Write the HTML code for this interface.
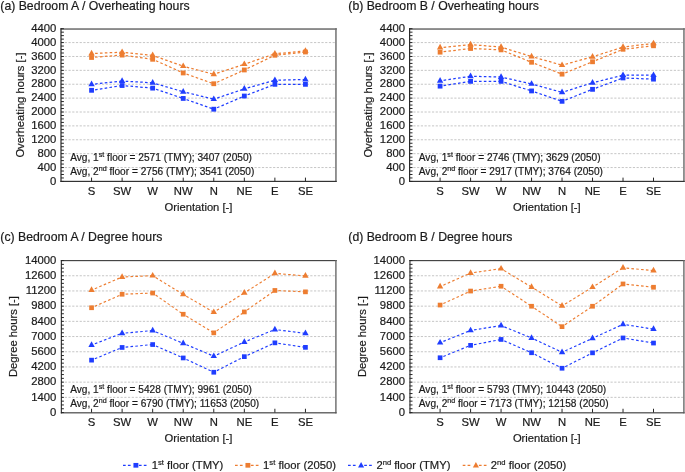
<!DOCTYPE html>
<html><head><meta charset="utf-8"><style>
html,body{margin:0;padding:0;background:#fff;}
body{width:685px;height:472px;overflow:hidden;}
svg{display:block;font-family:"Liberation Sans", sans-serif;will-change:transform;}
text{stroke:#1a1a1a;stroke-width:0.2px;}
</style></head><body>
<svg width="685" height="472" viewBox="0 0 685 472">
<rect width="685" height="472" fill="#fff"/>
<line x1="61.05" y1="167.55" x2="335" y2="167.55" stroke="#c6c6c6" stroke-width="1" stroke-dasharray="2.2 1.52"/>
<line x1="61.05" y1="153.66" x2="335" y2="153.66" stroke="#c6c6c6" stroke-width="1" stroke-dasharray="2.2 1.52"/>
<line x1="61.05" y1="139.78" x2="335" y2="139.78" stroke="#c6c6c6" stroke-width="1" stroke-dasharray="2.2 1.52"/>
<line x1="61.05" y1="125.89" x2="335" y2="125.89" stroke="#c6c6c6" stroke-width="1" stroke-dasharray="2.2 1.52"/>
<line x1="61.05" y1="112.01" x2="335" y2="112.01" stroke="#c6c6c6" stroke-width="1" stroke-dasharray="2.2 1.52"/>
<line x1="61.05" y1="98.12" x2="335" y2="98.12" stroke="#c6c6c6" stroke-width="1" stroke-dasharray="2.2 1.52"/>
<line x1="61.05" y1="84.24" x2="335" y2="84.24" stroke="#c6c6c6" stroke-width="1" stroke-dasharray="2.2 1.52"/>
<line x1="61.05" y1="70.35" x2="335" y2="70.35" stroke="#c6c6c6" stroke-width="1" stroke-dasharray="2.2 1.52"/>
<line x1="61.05" y1="56.47" x2="335" y2="56.47" stroke="#c6c6c6" stroke-width="1" stroke-dasharray="2.2 1.52"/>
<line x1="61.05" y1="42.58" x2="335" y2="42.58" stroke="#c6c6c6" stroke-width="1" stroke-dasharray="2.2 1.52"/>
<text x="70.2" y="161.08" font-size="10.15" fill="#1a1a1a">Avg, 1<tspan font-size="7.1" dy="-4">st</tspan><tspan dy="4"> floor = 2571 (TMY); 3407 (2050)</tspan></text>
<text x="70.2" y="174.88" font-size="10.15" fill="#1a1a1a">Avg, 2<tspan font-size="7.1" dy="-4">nd</tspan><tspan dy="4"> floor = 2756 (TMY); 3541 (2050)</tspan></text>
<path d="M91.56,57.48 L122.11,55.08 M122.11,55.08 L152.67,59.28 M152.67,59.28 L183.22,72.96 M183.22,72.96 L213.78,83.75 M213.78,83.75 L244.33,69.97 M244.33,69.97 L274.89,55.25 M274.89,55.25 L305.44,51.99" fill="none" stroke="#ed7d31" stroke-width="1.25" stroke-dasharray="2.6 2.25" stroke-dashoffset="1.3"/>
<path d="M91.56,53.53 L122.11,52.21 M122.11,52.21 L152.67,55.41 M152.67,55.41 L183.22,66.2 M183.22,66.2 L213.78,74.29 M213.78,74.29 L244.33,64.22 M244.33,64.22 L274.89,53.81 M274.89,53.81 L305.44,50.93" fill="none" stroke="#ed7d31" stroke-width="1.25" stroke-dasharray="2.6 2.25" stroke-dashoffset="1.3"/>
<path d="M91.56,90.31 L122.11,85.52 M122.11,85.52 L152.67,88.13 M152.67,88.13 L183.22,98.44 M183.22,98.44 L213.78,109.2 M213.78,109.2 L244.33,96.04 M244.33,96.04 L274.89,84.34 M274.89,84.34 L305.44,84.34" fill="none" stroke="#1f3dff" stroke-width="1.25" stroke-dasharray="2.6 2.25" stroke-dashoffset="1.3"/>
<path d="M91.56,84.39 L122.11,81.09 M122.11,81.09 L152.67,82.79 M152.67,82.79 L183.22,91.78 M183.22,91.78 L213.78,99.18 M213.78,99.18 L244.33,88.87 M244.33,88.87 L274.89,80.19 M274.89,80.19 L305.44,79.5" fill="none" stroke="#1f3dff" stroke-width="1.25" stroke-dasharray="2.6 2.25" stroke-dashoffset="1.3"/>
<rect x="89.16" y="55.08" width="4.8" height="4.8" fill="#ed7d31"/>
<rect x="119.71" y="52.68" width="4.8" height="4.8" fill="#ed7d31"/>
<rect x="150.27" y="56.88" width="4.8" height="4.8" fill="#ed7d31"/>
<rect x="180.82" y="70.56" width="4.8" height="4.8" fill="#ed7d31"/>
<rect x="211.38" y="81.35" width="4.8" height="4.8" fill="#ed7d31"/>
<rect x="241.93" y="67.57" width="4.8" height="4.8" fill="#ed7d31"/>
<rect x="272.49" y="52.85" width="4.8" height="4.8" fill="#ed7d31"/>
<rect x="303.04" y="49.59" width="4.8" height="4.8" fill="#ed7d31"/>
<path d="M91.56,49.73 L94.76,55.43 L88.36,55.43 Z" fill="#ed7d31"/>
<path d="M122.11,48.41 L125.31,54.11 L118.91,54.11 Z" fill="#ed7d31"/>
<path d="M152.67,51.61 L155.87,57.31 L149.47,57.31 Z" fill="#ed7d31"/>
<path d="M183.22,62.4 L186.42,68.1 L180.02,68.1 Z" fill="#ed7d31"/>
<path d="M213.78,70.49 L216.98,76.19 L210.58,76.19 Z" fill="#ed7d31"/>
<path d="M244.33,60.42 L247.53,66.12 L241.13,66.12 Z" fill="#ed7d31"/>
<path d="M274.89,50.01 L278.09,55.71 L271.69,55.71 Z" fill="#ed7d31"/>
<path d="M305.44,47.13 L308.64,52.83 L302.24,52.83 Z" fill="#ed7d31"/>
<rect x="89.16" y="87.91" width="4.8" height="4.8" fill="#1f3dff"/>
<rect x="119.71" y="83.12" width="4.8" height="4.8" fill="#1f3dff"/>
<rect x="150.27" y="85.73" width="4.8" height="4.8" fill="#1f3dff"/>
<rect x="180.82" y="96.04" width="4.8" height="4.8" fill="#1f3dff"/>
<rect x="211.38" y="106.8" width="4.8" height="4.8" fill="#1f3dff"/>
<rect x="241.93" y="93.64" width="4.8" height="4.8" fill="#1f3dff"/>
<rect x="272.49" y="81.94" width="4.8" height="4.8" fill="#1f3dff"/>
<rect x="303.04" y="81.94" width="4.8" height="4.8" fill="#1f3dff"/>
<path d="M91.56,80.59 L94.76,86.29 L88.36,86.29 Z" fill="#1f3dff"/>
<path d="M122.11,77.29 L125.31,82.99 L118.91,82.99 Z" fill="#1f3dff"/>
<path d="M152.67,78.99 L155.87,84.69 L149.47,84.69 Z" fill="#1f3dff"/>
<path d="M183.22,87.98 L186.42,93.68 L180.02,93.68 Z" fill="#1f3dff"/>
<path d="M213.78,95.38 L216.98,101.08 L210.58,101.08 Z" fill="#1f3dff"/>
<path d="M244.33,85.07 L247.53,90.77 L241.13,90.77 Z" fill="#1f3dff"/>
<path d="M274.89,76.39 L278.09,82.09 L271.69,82.09 Z" fill="#1f3dff"/>
<path d="M305.44,75.7 L308.64,81.4 L302.24,81.4 Z" fill="#1f3dff"/>
<rect x="60.4" y="28.1" width="276.4" height="1.9" fill="#8a8a8a"/>
<rect x="335.2" y="28.1" width="1.5" height="153.9" fill="#727272"/>
<rect x="60.4" y="180.8" width="276.3" height="1.2" fill="#333"/>
<rect x="60.4" y="28.1" width="1.2" height="153.9" fill="#2a2a2a"/>
<line x1="61" y1="181.43" x2="63.9" y2="181.43" stroke="#262626" stroke-width="1"/>
<line x1="61" y1="177.96" x2="63.9" y2="177.96" stroke="#262626" stroke-width="1"/>
<line x1="61" y1="174.49" x2="63.9" y2="174.49" stroke="#262626" stroke-width="1"/>
<line x1="61" y1="171.02" x2="63.9" y2="171.02" stroke="#262626" stroke-width="1"/>
<line x1="61" y1="167.55" x2="63.9" y2="167.55" stroke="#262626" stroke-width="1"/>
<line x1="61" y1="164.07" x2="63.9" y2="164.07" stroke="#262626" stroke-width="1"/>
<line x1="61" y1="160.6" x2="63.9" y2="160.6" stroke="#262626" stroke-width="1"/>
<line x1="61" y1="157.13" x2="63.9" y2="157.13" stroke="#262626" stroke-width="1"/>
<line x1="61" y1="153.66" x2="63.9" y2="153.66" stroke="#262626" stroke-width="1"/>
<line x1="61" y1="150.19" x2="63.9" y2="150.19" stroke="#262626" stroke-width="1"/>
<line x1="61" y1="146.72" x2="63.9" y2="146.72" stroke="#262626" stroke-width="1"/>
<line x1="61" y1="143.25" x2="63.9" y2="143.25" stroke="#262626" stroke-width="1"/>
<line x1="61" y1="139.78" x2="63.9" y2="139.78" stroke="#262626" stroke-width="1"/>
<line x1="61" y1="136.31" x2="63.9" y2="136.31" stroke="#262626" stroke-width="1"/>
<line x1="61" y1="132.83" x2="63.9" y2="132.83" stroke="#262626" stroke-width="1"/>
<line x1="61" y1="129.36" x2="63.9" y2="129.36" stroke="#262626" stroke-width="1"/>
<line x1="61" y1="125.89" x2="63.9" y2="125.89" stroke="#262626" stroke-width="1"/>
<line x1="61" y1="122.42" x2="63.9" y2="122.42" stroke="#262626" stroke-width="1"/>
<line x1="61" y1="118.95" x2="63.9" y2="118.95" stroke="#262626" stroke-width="1"/>
<line x1="61" y1="115.48" x2="63.9" y2="115.48" stroke="#262626" stroke-width="1"/>
<line x1="61" y1="112.01" x2="63.9" y2="112.01" stroke="#262626" stroke-width="1"/>
<line x1="61" y1="108.54" x2="63.9" y2="108.54" stroke="#262626" stroke-width="1"/>
<line x1="61" y1="105.06" x2="63.9" y2="105.06" stroke="#262626" stroke-width="1"/>
<line x1="61" y1="101.59" x2="63.9" y2="101.59" stroke="#262626" stroke-width="1"/>
<line x1="61" y1="98.12" x2="63.9" y2="98.12" stroke="#262626" stroke-width="1"/>
<line x1="61" y1="94.65" x2="63.9" y2="94.65" stroke="#262626" stroke-width="1"/>
<line x1="61" y1="91.18" x2="63.9" y2="91.18" stroke="#262626" stroke-width="1"/>
<line x1="61" y1="87.71" x2="63.9" y2="87.71" stroke="#262626" stroke-width="1"/>
<line x1="61" y1="84.24" x2="63.9" y2="84.24" stroke="#262626" stroke-width="1"/>
<line x1="61" y1="80.77" x2="63.9" y2="80.77" stroke="#262626" stroke-width="1"/>
<line x1="61" y1="77.3" x2="63.9" y2="77.3" stroke="#262626" stroke-width="1"/>
<line x1="61" y1="73.82" x2="63.9" y2="73.82" stroke="#262626" stroke-width="1"/>
<line x1="61" y1="70.35" x2="63.9" y2="70.35" stroke="#262626" stroke-width="1"/>
<line x1="61" y1="66.88" x2="63.9" y2="66.88" stroke="#262626" stroke-width="1"/>
<line x1="61" y1="63.41" x2="63.9" y2="63.41" stroke="#262626" stroke-width="1"/>
<line x1="61" y1="59.94" x2="63.9" y2="59.94" stroke="#262626" stroke-width="1"/>
<line x1="61" y1="56.47" x2="63.9" y2="56.47" stroke="#262626" stroke-width="1"/>
<line x1="61" y1="53" x2="63.9" y2="53" stroke="#262626" stroke-width="1"/>
<line x1="61" y1="49.53" x2="63.9" y2="49.53" stroke="#262626" stroke-width="1"/>
<line x1="61" y1="46.06" x2="63.9" y2="46.06" stroke="#262626" stroke-width="1"/>
<line x1="61" y1="42.58" x2="63.9" y2="42.58" stroke="#262626" stroke-width="1"/>
<line x1="61" y1="39.11" x2="63.9" y2="39.11" stroke="#262626" stroke-width="1"/>
<line x1="61" y1="35.64" x2="63.9" y2="35.64" stroke="#262626" stroke-width="1"/>
<line x1="61" y1="32.17" x2="63.9" y2="32.17" stroke="#262626" stroke-width="1"/>
<line x1="61" y1="28.7" x2="63.9" y2="28.7" stroke="#262626" stroke-width="1"/>
<line x1="91.56" y1="181.43" x2="91.56" y2="177.63" stroke="#262626" stroke-width="1"/>
<line x1="122.11" y1="181.43" x2="122.11" y2="177.63" stroke="#262626" stroke-width="1"/>
<line x1="152.67" y1="181.43" x2="152.67" y2="177.63" stroke="#262626" stroke-width="1"/>
<line x1="183.22" y1="181.43" x2="183.22" y2="177.63" stroke="#262626" stroke-width="1"/>
<line x1="213.78" y1="181.43" x2="213.78" y2="177.63" stroke="#262626" stroke-width="1"/>
<line x1="244.33" y1="181.43" x2="244.33" y2="177.63" stroke="#262626" stroke-width="1"/>
<line x1="274.89" y1="181.43" x2="274.89" y2="177.63" stroke="#262626" stroke-width="1"/>
<line x1="305.44" y1="181.43" x2="305.44" y2="177.63" stroke="#262626" stroke-width="1"/>
<text x="56.4" y="184.68" font-size="11.3" text-anchor="end" fill="#1a1a1a">0</text>
<text x="56.4" y="170.8" font-size="11.3" text-anchor="end" fill="#1a1a1a">400</text>
<text x="56.4" y="156.91" font-size="11.3" text-anchor="end" fill="#1a1a1a">800</text>
<text x="56.4" y="143.03" font-size="11.3" text-anchor="end" fill="#1a1a1a">1200</text>
<text x="56.4" y="129.14" font-size="11.3" text-anchor="end" fill="#1a1a1a">1600</text>
<text x="56.4" y="115.26" font-size="11.3" text-anchor="end" fill="#1a1a1a">2000</text>
<text x="56.4" y="101.37" font-size="11.3" text-anchor="end" fill="#1a1a1a">2400</text>
<text x="56.4" y="87.49" font-size="11.3" text-anchor="end" fill="#1a1a1a">2800</text>
<text x="56.4" y="73.6" font-size="11.3" text-anchor="end" fill="#1a1a1a">3200</text>
<text x="56.4" y="59.72" font-size="11.3" text-anchor="end" fill="#1a1a1a">3600</text>
<text x="56.4" y="45.83" font-size="11.3" text-anchor="end" fill="#1a1a1a">4000</text>
<text x="56.4" y="31.95" font-size="11.3" text-anchor="end" fill="#1a1a1a">4400</text>
<text x="91.56" y="195.03" font-size="11.3" text-anchor="middle" fill="#1a1a1a">S</text>
<text x="122.11" y="195.03" font-size="11.3" text-anchor="middle" fill="#1a1a1a">SW</text>
<text x="152.67" y="195.03" font-size="11.3" text-anchor="middle" fill="#1a1a1a">W</text>
<text x="183.22" y="195.03" font-size="11.3" text-anchor="middle" fill="#1a1a1a">NW</text>
<text x="213.78" y="195.03" font-size="11.3" text-anchor="middle" fill="#1a1a1a">N</text>
<text x="244.33" y="195.03" font-size="11.3" text-anchor="middle" fill="#1a1a1a">NE</text>
<text x="274.89" y="195.03" font-size="11.3" text-anchor="middle" fill="#1a1a1a">E</text>
<text x="305.44" y="195.03" font-size="11.3" text-anchor="middle" fill="#1a1a1a">SE</text>
<text x="198.5" y="210.83" font-size="11.2" text-anchor="middle" fill="#1a1a1a">Orientation [-]</text>
<text transform="translate(23.6,105.06) rotate(-90)" x="0" y="0" font-size="11.2" text-anchor="middle" fill="#1a1a1a">Overheating hours [-]</text>
<text x="0.3" y="9.7" font-size="12.25" fill="#1a1a1a">(a) Bedroom A / Overheating hours</text>
<line x1="409.65" y1="167.55" x2="683" y2="167.55" stroke="#c6c6c6" stroke-width="1" stroke-dasharray="2.2 1.52"/>
<line x1="409.65" y1="153.66" x2="683" y2="153.66" stroke="#c6c6c6" stroke-width="1" stroke-dasharray="2.2 1.52"/>
<line x1="409.65" y1="139.78" x2="683" y2="139.78" stroke="#c6c6c6" stroke-width="1" stroke-dasharray="2.2 1.52"/>
<line x1="409.65" y1="125.89" x2="683" y2="125.89" stroke="#c6c6c6" stroke-width="1" stroke-dasharray="2.2 1.52"/>
<line x1="409.65" y1="112.01" x2="683" y2="112.01" stroke="#c6c6c6" stroke-width="1" stroke-dasharray="2.2 1.52"/>
<line x1="409.65" y1="98.12" x2="683" y2="98.12" stroke="#c6c6c6" stroke-width="1" stroke-dasharray="2.2 1.52"/>
<line x1="409.65" y1="84.24" x2="683" y2="84.24" stroke="#c6c6c6" stroke-width="1" stroke-dasharray="2.2 1.52"/>
<line x1="409.65" y1="70.35" x2="683" y2="70.35" stroke="#c6c6c6" stroke-width="1" stroke-dasharray="2.2 1.52"/>
<line x1="409.65" y1="56.47" x2="683" y2="56.47" stroke="#c6c6c6" stroke-width="1" stroke-dasharray="2.2 1.52"/>
<line x1="409.65" y1="42.58" x2="683" y2="42.58" stroke="#c6c6c6" stroke-width="1" stroke-dasharray="2.2 1.52"/>
<text x="418.8" y="161.08" font-size="10.15" fill="#1a1a1a">Avg, 1<tspan font-size="7.1" dy="-4">st</tspan><tspan dy="4"> floor = 2746 (TMY); 3629 (2050)</tspan></text>
<text x="418.8" y="174.88" font-size="10.15" fill="#1a1a1a">Avg, 2<tspan font-size="7.1" dy="-4">nd</tspan><tspan dy="4"> floor = 2917 (TMY); 3764 (2050)</tspan></text>
<path d="M440.09,52.16 L470.58,48.49 M470.58,48.49 L501.07,49.87 M501.07,49.87 L531.56,62.27 M531.56,62.27 L562.04,74.14 M562.04,74.14 L592.53,61.78 M592.53,61.78 L623.02,49.28 M623.02,49.28 L653.51,45.78" fill="none" stroke="#ed7d31" stroke-width="1.25" stroke-dasharray="2.6 2.25" stroke-dashoffset="1.3"/>
<path d="M440.09,47.63 L470.58,44.54 M470.58,44.54 L501.07,47.14 M501.07,47.14 L531.56,56.52 M531.56,56.52 L562.04,65.19 M562.04,65.19 L592.53,56.83 M592.53,56.83 L623.02,47.04 M623.02,47.04 L653.51,43.43" fill="none" stroke="#ed7d31" stroke-width="1.25" stroke-dasharray="2.6 2.25" stroke-dashoffset="1.3"/>
<path d="M440.09,86.15 L470.58,81.36 M470.58,81.36 L501.07,81.36 M501.07,81.36 L531.56,90.94 M531.56,90.94 L562.04,101.32 M562.04,101.32 L592.53,89.34 M592.53,89.34 L623.02,77.96 M623.02,77.96 L653.51,79.14" fill="none" stroke="#1f3dff" stroke-width="1.25" stroke-dasharray="2.6 2.25" stroke-dashoffset="1.3"/>
<path d="M440.09,80.78 L470.58,76.3 M470.58,76.3 L501.07,77 M501.07,77 L531.56,83.97 M531.56,83.97 L562.04,92.37 M562.04,92.37 L592.53,82.79 M592.53,82.79 L623.02,75.19 M623.02,75.19 L653.51,75.19" fill="none" stroke="#1f3dff" stroke-width="1.25" stroke-dasharray="2.6 2.25" stroke-dashoffset="1.3"/>
<rect x="437.69" y="49.76" width="4.8" height="4.8" fill="#ed7d31"/>
<rect x="468.18" y="46.09" width="4.8" height="4.8" fill="#ed7d31"/>
<rect x="498.67" y="47.47" width="4.8" height="4.8" fill="#ed7d31"/>
<rect x="529.16" y="59.87" width="4.8" height="4.8" fill="#ed7d31"/>
<rect x="559.64" y="71.74" width="4.8" height="4.8" fill="#ed7d31"/>
<rect x="590.13" y="59.38" width="4.8" height="4.8" fill="#ed7d31"/>
<rect x="620.62" y="46.88" width="4.8" height="4.8" fill="#ed7d31"/>
<rect x="651.11" y="43.38" width="4.8" height="4.8" fill="#ed7d31"/>
<path d="M440.09,43.83 L443.29,49.53 L436.89,49.53 Z" fill="#ed7d31"/>
<path d="M470.58,40.74 L473.78,46.44 L467.38,46.44 Z" fill="#ed7d31"/>
<path d="M501.07,43.34 L504.27,49.04 L497.87,49.04 Z" fill="#ed7d31"/>
<path d="M531.56,52.72 L534.76,58.42 L528.36,58.42 Z" fill="#ed7d31"/>
<path d="M562.04,61.39 L565.24,67.09 L558.84,67.09 Z" fill="#ed7d31"/>
<path d="M592.53,53.03 L595.73,58.73 L589.33,58.73 Z" fill="#ed7d31"/>
<path d="M623.02,43.24 L626.22,48.94 L619.82,48.94 Z" fill="#ed7d31"/>
<path d="M653.51,39.63 L656.71,45.33 L650.31,45.33 Z" fill="#ed7d31"/>
<rect x="437.69" y="83.75" width="4.8" height="4.8" fill="#1f3dff"/>
<rect x="468.18" y="78.96" width="4.8" height="4.8" fill="#1f3dff"/>
<rect x="498.67" y="78.96" width="4.8" height="4.8" fill="#1f3dff"/>
<rect x="529.16" y="88.54" width="4.8" height="4.8" fill="#1f3dff"/>
<rect x="559.64" y="98.92" width="4.8" height="4.8" fill="#1f3dff"/>
<rect x="590.13" y="86.94" width="4.8" height="4.8" fill="#1f3dff"/>
<rect x="620.62" y="75.56" width="4.8" height="4.8" fill="#1f3dff"/>
<rect x="651.11" y="76.74" width="4.8" height="4.8" fill="#1f3dff"/>
<path d="M440.09,76.98 L443.29,82.68 L436.89,82.68 Z" fill="#1f3dff"/>
<path d="M470.58,72.5 L473.78,78.2 L467.38,78.2 Z" fill="#1f3dff"/>
<path d="M501.07,73.2 L504.27,78.9 L497.87,78.9 Z" fill="#1f3dff"/>
<path d="M531.56,80.17 L534.76,85.87 L528.36,85.87 Z" fill="#1f3dff"/>
<path d="M562.04,88.57 L565.24,94.27 L558.84,94.27 Z" fill="#1f3dff"/>
<path d="M592.53,78.99 L595.73,84.69 L589.33,84.69 Z" fill="#1f3dff"/>
<path d="M623.02,71.39 L626.22,77.09 L619.82,77.09 Z" fill="#1f3dff"/>
<path d="M653.51,71.39 L656.71,77.09 L650.31,77.09 Z" fill="#1f3dff"/>
<rect x="409" y="28.1" width="275.8" height="1.9" fill="#8a8a8a"/>
<rect x="683.2" y="28.1" width="1.5" height="153.9" fill="#727272"/>
<rect x="409" y="180.8" width="275.7" height="1.2" fill="#333"/>
<rect x="409" y="28.1" width="1.2" height="153.9" fill="#2a2a2a"/>
<line x1="409.6" y1="181.43" x2="412.5" y2="181.43" stroke="#262626" stroke-width="1"/>
<line x1="409.6" y1="177.96" x2="412.5" y2="177.96" stroke="#262626" stroke-width="1"/>
<line x1="409.6" y1="174.49" x2="412.5" y2="174.49" stroke="#262626" stroke-width="1"/>
<line x1="409.6" y1="171.02" x2="412.5" y2="171.02" stroke="#262626" stroke-width="1"/>
<line x1="409.6" y1="167.55" x2="412.5" y2="167.55" stroke="#262626" stroke-width="1"/>
<line x1="409.6" y1="164.07" x2="412.5" y2="164.07" stroke="#262626" stroke-width="1"/>
<line x1="409.6" y1="160.6" x2="412.5" y2="160.6" stroke="#262626" stroke-width="1"/>
<line x1="409.6" y1="157.13" x2="412.5" y2="157.13" stroke="#262626" stroke-width="1"/>
<line x1="409.6" y1="153.66" x2="412.5" y2="153.66" stroke="#262626" stroke-width="1"/>
<line x1="409.6" y1="150.19" x2="412.5" y2="150.19" stroke="#262626" stroke-width="1"/>
<line x1="409.6" y1="146.72" x2="412.5" y2="146.72" stroke="#262626" stroke-width="1"/>
<line x1="409.6" y1="143.25" x2="412.5" y2="143.25" stroke="#262626" stroke-width="1"/>
<line x1="409.6" y1="139.78" x2="412.5" y2="139.78" stroke="#262626" stroke-width="1"/>
<line x1="409.6" y1="136.31" x2="412.5" y2="136.31" stroke="#262626" stroke-width="1"/>
<line x1="409.6" y1="132.83" x2="412.5" y2="132.83" stroke="#262626" stroke-width="1"/>
<line x1="409.6" y1="129.36" x2="412.5" y2="129.36" stroke="#262626" stroke-width="1"/>
<line x1="409.6" y1="125.89" x2="412.5" y2="125.89" stroke="#262626" stroke-width="1"/>
<line x1="409.6" y1="122.42" x2="412.5" y2="122.42" stroke="#262626" stroke-width="1"/>
<line x1="409.6" y1="118.95" x2="412.5" y2="118.95" stroke="#262626" stroke-width="1"/>
<line x1="409.6" y1="115.48" x2="412.5" y2="115.48" stroke="#262626" stroke-width="1"/>
<line x1="409.6" y1="112.01" x2="412.5" y2="112.01" stroke="#262626" stroke-width="1"/>
<line x1="409.6" y1="108.54" x2="412.5" y2="108.54" stroke="#262626" stroke-width="1"/>
<line x1="409.6" y1="105.06" x2="412.5" y2="105.06" stroke="#262626" stroke-width="1"/>
<line x1="409.6" y1="101.59" x2="412.5" y2="101.59" stroke="#262626" stroke-width="1"/>
<line x1="409.6" y1="98.12" x2="412.5" y2="98.12" stroke="#262626" stroke-width="1"/>
<line x1="409.6" y1="94.65" x2="412.5" y2="94.65" stroke="#262626" stroke-width="1"/>
<line x1="409.6" y1="91.18" x2="412.5" y2="91.18" stroke="#262626" stroke-width="1"/>
<line x1="409.6" y1="87.71" x2="412.5" y2="87.71" stroke="#262626" stroke-width="1"/>
<line x1="409.6" y1="84.24" x2="412.5" y2="84.24" stroke="#262626" stroke-width="1"/>
<line x1="409.6" y1="80.77" x2="412.5" y2="80.77" stroke="#262626" stroke-width="1"/>
<line x1="409.6" y1="77.3" x2="412.5" y2="77.3" stroke="#262626" stroke-width="1"/>
<line x1="409.6" y1="73.82" x2="412.5" y2="73.82" stroke="#262626" stroke-width="1"/>
<line x1="409.6" y1="70.35" x2="412.5" y2="70.35" stroke="#262626" stroke-width="1"/>
<line x1="409.6" y1="66.88" x2="412.5" y2="66.88" stroke="#262626" stroke-width="1"/>
<line x1="409.6" y1="63.41" x2="412.5" y2="63.41" stroke="#262626" stroke-width="1"/>
<line x1="409.6" y1="59.94" x2="412.5" y2="59.94" stroke="#262626" stroke-width="1"/>
<line x1="409.6" y1="56.47" x2="412.5" y2="56.47" stroke="#262626" stroke-width="1"/>
<line x1="409.6" y1="53" x2="412.5" y2="53" stroke="#262626" stroke-width="1"/>
<line x1="409.6" y1="49.53" x2="412.5" y2="49.53" stroke="#262626" stroke-width="1"/>
<line x1="409.6" y1="46.06" x2="412.5" y2="46.06" stroke="#262626" stroke-width="1"/>
<line x1="409.6" y1="42.58" x2="412.5" y2="42.58" stroke="#262626" stroke-width="1"/>
<line x1="409.6" y1="39.11" x2="412.5" y2="39.11" stroke="#262626" stroke-width="1"/>
<line x1="409.6" y1="35.64" x2="412.5" y2="35.64" stroke="#262626" stroke-width="1"/>
<line x1="409.6" y1="32.17" x2="412.5" y2="32.17" stroke="#262626" stroke-width="1"/>
<line x1="409.6" y1="28.7" x2="412.5" y2="28.7" stroke="#262626" stroke-width="1"/>
<line x1="440.09" y1="181.43" x2="440.09" y2="177.63" stroke="#262626" stroke-width="1"/>
<line x1="470.58" y1="181.43" x2="470.58" y2="177.63" stroke="#262626" stroke-width="1"/>
<line x1="501.07" y1="181.43" x2="501.07" y2="177.63" stroke="#262626" stroke-width="1"/>
<line x1="531.56" y1="181.43" x2="531.56" y2="177.63" stroke="#262626" stroke-width="1"/>
<line x1="562.04" y1="181.43" x2="562.04" y2="177.63" stroke="#262626" stroke-width="1"/>
<line x1="592.53" y1="181.43" x2="592.53" y2="177.63" stroke="#262626" stroke-width="1"/>
<line x1="623.02" y1="181.43" x2="623.02" y2="177.63" stroke="#262626" stroke-width="1"/>
<line x1="653.51" y1="181.43" x2="653.51" y2="177.63" stroke="#262626" stroke-width="1"/>
<text x="405" y="184.68" font-size="11.3" text-anchor="end" fill="#1a1a1a">0</text>
<text x="405" y="170.8" font-size="11.3" text-anchor="end" fill="#1a1a1a">400</text>
<text x="405" y="156.91" font-size="11.3" text-anchor="end" fill="#1a1a1a">800</text>
<text x="405" y="143.03" font-size="11.3" text-anchor="end" fill="#1a1a1a">1200</text>
<text x="405" y="129.14" font-size="11.3" text-anchor="end" fill="#1a1a1a">1600</text>
<text x="405" y="115.26" font-size="11.3" text-anchor="end" fill="#1a1a1a">2000</text>
<text x="405" y="101.37" font-size="11.3" text-anchor="end" fill="#1a1a1a">2400</text>
<text x="405" y="87.49" font-size="11.3" text-anchor="end" fill="#1a1a1a">2800</text>
<text x="405" y="73.6" font-size="11.3" text-anchor="end" fill="#1a1a1a">3200</text>
<text x="405" y="59.72" font-size="11.3" text-anchor="end" fill="#1a1a1a">3600</text>
<text x="405" y="45.83" font-size="11.3" text-anchor="end" fill="#1a1a1a">4000</text>
<text x="405" y="31.95" font-size="11.3" text-anchor="end" fill="#1a1a1a">4400</text>
<text x="440.09" y="195.03" font-size="11.3" text-anchor="middle" fill="#1a1a1a">S</text>
<text x="470.58" y="195.03" font-size="11.3" text-anchor="middle" fill="#1a1a1a">SW</text>
<text x="501.07" y="195.03" font-size="11.3" text-anchor="middle" fill="#1a1a1a">W</text>
<text x="531.56" y="195.03" font-size="11.3" text-anchor="middle" fill="#1a1a1a">NW</text>
<text x="562.04" y="195.03" font-size="11.3" text-anchor="middle" fill="#1a1a1a">N</text>
<text x="592.53" y="195.03" font-size="11.3" text-anchor="middle" fill="#1a1a1a">NE</text>
<text x="623.02" y="195.03" font-size="11.3" text-anchor="middle" fill="#1a1a1a">E</text>
<text x="653.51" y="195.03" font-size="11.3" text-anchor="middle" fill="#1a1a1a">SE</text>
<text x="546.8" y="210.83" font-size="11.2" text-anchor="middle" fill="#1a1a1a">Orientation [-]</text>
<text transform="translate(372.2,105.06) rotate(-90)" x="0" y="0" font-size="11.2" text-anchor="middle" fill="#1a1a1a">Overheating hours [-]</text>
<text x="348.3" y="9.7" font-size="12.25" fill="#1a1a1a">(b) Bedroom B / Overheating hours</text>
<line x1="61.05" y1="397.35" x2="335" y2="397.35" stroke="#c6c6c6" stroke-width="1" stroke-dasharray="2.2 1.52"/>
<line x1="61.05" y1="382.15" x2="335" y2="382.15" stroke="#c6c6c6" stroke-width="1" stroke-dasharray="2.2 1.52"/>
<line x1="61.05" y1="366.95" x2="335" y2="366.95" stroke="#c6c6c6" stroke-width="1" stroke-dasharray="2.2 1.52"/>
<line x1="61.05" y1="351.75" x2="335" y2="351.75" stroke="#c6c6c6" stroke-width="1" stroke-dasharray="2.2 1.52"/>
<line x1="61.05" y1="336.55" x2="335" y2="336.55" stroke="#c6c6c6" stroke-width="1" stroke-dasharray="2.2 1.52"/>
<line x1="61.05" y1="321.35" x2="335" y2="321.35" stroke="#c6c6c6" stroke-width="1" stroke-dasharray="2.2 1.52"/>
<line x1="61.05" y1="306.15" x2="335" y2="306.15" stroke="#c6c6c6" stroke-width="1" stroke-dasharray="2.2 1.52"/>
<line x1="61.05" y1="290.95" x2="335" y2="290.95" stroke="#c6c6c6" stroke-width="1" stroke-dasharray="2.2 1.52"/>
<line x1="61.05" y1="275.75" x2="335" y2="275.75" stroke="#c6c6c6" stroke-width="1" stroke-dasharray="2.2 1.52"/>
<text x="70.2" y="393.1" font-size="10.15" fill="#1a1a1a">Avg, 1<tspan font-size="7.1" dy="-4">st</tspan><tspan dy="4"> floor = 5428 (TMY); 9961 (2050)</tspan></text>
<text x="70.2" y="406.85" font-size="10.15" fill="#1a1a1a">Avg, 2<tspan font-size="7.1" dy="-4">nd</tspan><tspan dy="4"> floor = 6790 (TMY); 11653 (2050)</tspan></text>
<path d="M91.56,307.75 L122.11,294.25 M122.11,294.25 L152.67,293.06 M152.67,293.06 L183.22,314.25 M183.22,314.25 L213.78,332.85 M213.78,332.85 L244.33,311.95 M244.33,311.95 L274.89,290.45 M274.89,290.45 L305.44,291.85" fill="none" stroke="#ed7d31" stroke-width="1.15" stroke-dasharray="2.6 2.25" stroke-dashoffset="1.3"/>
<path d="M91.56,290.1 L122.11,277 M122.11,277 L152.67,275.7 M152.67,275.7 L183.22,294.4 M183.22,294.4 L213.78,312.2 M213.78,312.2 L244.33,292.9 M244.33,292.9 L274.89,273.4 M274.89,273.4 L305.44,275.9" fill="none" stroke="#ed7d31" stroke-width="1.15" stroke-dasharray="2.6 2.25" stroke-dashoffset="1.3"/>
<path d="M91.56,360.15 L122.11,347.45 M122.11,347.45 L152.67,344.55 M152.67,344.55 L183.22,357.95 M183.22,357.95 L213.78,372.25 M213.78,372.25 L244.33,356.65 M244.33,356.65 L274.89,342.85 M274.89,342.85 L305.44,347.35" fill="none" stroke="#1f3dff" stroke-width="1.15" stroke-dasharray="2.6 2.25" stroke-dashoffset="1.3"/>
<path d="M91.56,345.1 L122.11,333.3 M122.11,333.3 L152.67,330.59 M152.67,330.59 L183.22,343.4 M183.22,343.4 L213.78,356.2 M213.78,356.2 L244.33,341.99 M244.33,341.99 L274.89,329.5 M274.89,329.5 L305.44,333.4" fill="none" stroke="#1f3dff" stroke-width="1.15" stroke-dasharray="2.6 2.25" stroke-dashoffset="1.3"/>
<rect x="89.21" y="305.4" width="4.7" height="4.7" fill="#ed7d31"/>
<rect x="119.76" y="291.9" width="4.7" height="4.7" fill="#ed7d31"/>
<rect x="150.32" y="290.71" width="4.7" height="4.7" fill="#ed7d31"/>
<rect x="180.87" y="311.9" width="4.7" height="4.7" fill="#ed7d31"/>
<rect x="211.43" y="330.5" width="4.7" height="4.7" fill="#ed7d31"/>
<rect x="241.98" y="309.6" width="4.7" height="4.7" fill="#ed7d31"/>
<rect x="272.54" y="288.1" width="4.7" height="4.7" fill="#ed7d31"/>
<rect x="303.09" y="289.5" width="4.7" height="4.7" fill="#ed7d31"/>
<path d="M91.56,286.3 L94.76,292 L88.36,292 Z" fill="#ed7d31"/>
<path d="M122.11,273.2 L125.31,278.9 L118.91,278.9 Z" fill="#ed7d31"/>
<path d="M152.67,271.9 L155.87,277.6 L149.47,277.6 Z" fill="#ed7d31"/>
<path d="M183.22,290.6 L186.42,296.3 L180.02,296.3 Z" fill="#ed7d31"/>
<path d="M213.78,308.4 L216.98,314.1 L210.58,314.1 Z" fill="#ed7d31"/>
<path d="M244.33,289.1 L247.53,294.8 L241.13,294.8 Z" fill="#ed7d31"/>
<path d="M274.89,269.6 L278.09,275.3 L271.69,275.3 Z" fill="#ed7d31"/>
<path d="M305.44,272.1 L308.64,277.8 L302.24,277.8 Z" fill="#ed7d31"/>
<rect x="89.21" y="357.8" width="4.7" height="4.7" fill="#1f3dff"/>
<rect x="119.76" y="345.1" width="4.7" height="4.7" fill="#1f3dff"/>
<rect x="150.32" y="342.2" width="4.7" height="4.7" fill="#1f3dff"/>
<rect x="180.87" y="355.6" width="4.7" height="4.7" fill="#1f3dff"/>
<rect x="211.43" y="369.9" width="4.7" height="4.7" fill="#1f3dff"/>
<rect x="241.98" y="354.3" width="4.7" height="4.7" fill="#1f3dff"/>
<rect x="272.54" y="340.5" width="4.7" height="4.7" fill="#1f3dff"/>
<rect x="303.09" y="345" width="4.7" height="4.7" fill="#1f3dff"/>
<path d="M91.56,341.3 L94.76,347 L88.36,347 Z" fill="#1f3dff"/>
<path d="M122.11,329.5 L125.31,335.2 L118.91,335.2 Z" fill="#1f3dff"/>
<path d="M152.67,326.79 L155.87,332.49 L149.47,332.49 Z" fill="#1f3dff"/>
<path d="M183.22,339.6 L186.42,345.3 L180.02,345.3 Z" fill="#1f3dff"/>
<path d="M213.78,352.4 L216.98,358.1 L210.58,358.1 Z" fill="#1f3dff"/>
<path d="M244.33,338.19 L247.53,343.89 L241.13,343.89 Z" fill="#1f3dff"/>
<path d="M274.89,325.7 L278.09,331.4 L271.69,331.4 Z" fill="#1f3dff"/>
<path d="M305.44,329.6 L308.64,335.3 L302.24,335.3 Z" fill="#1f3dff"/>
<rect x="60.8" y="260.15" width="276" height="1" fill="#262626"/>
<rect x="335.2" y="260.15" width="1.4" height="153.25" fill="#6a6a6a"/>
<rect x="60.8" y="412.15" width="275.8" height="1.3" fill="#555"/>
<rect x="60.8" y="260.15" width="1.1" height="153.25" fill="#2a2a2a"/>
<line x1="61" y1="412.55" x2="63.9" y2="412.55" stroke="#262626" stroke-width="1"/>
<line x1="61" y1="408.75" x2="63.9" y2="408.75" stroke="#262626" stroke-width="1"/>
<line x1="61" y1="404.95" x2="63.9" y2="404.95" stroke="#262626" stroke-width="1"/>
<line x1="61" y1="401.15" x2="63.9" y2="401.15" stroke="#262626" stroke-width="1"/>
<line x1="61" y1="397.35" x2="63.9" y2="397.35" stroke="#262626" stroke-width="1"/>
<line x1="61" y1="393.55" x2="63.9" y2="393.55" stroke="#262626" stroke-width="1"/>
<line x1="61" y1="389.75" x2="63.9" y2="389.75" stroke="#262626" stroke-width="1"/>
<line x1="61" y1="385.95" x2="63.9" y2="385.95" stroke="#262626" stroke-width="1"/>
<line x1="61" y1="382.15" x2="63.9" y2="382.15" stroke="#262626" stroke-width="1"/>
<line x1="61" y1="378.35" x2="63.9" y2="378.35" stroke="#262626" stroke-width="1"/>
<line x1="61" y1="374.55" x2="63.9" y2="374.55" stroke="#262626" stroke-width="1"/>
<line x1="61" y1="370.75" x2="63.9" y2="370.75" stroke="#262626" stroke-width="1"/>
<line x1="61" y1="366.95" x2="63.9" y2="366.95" stroke="#262626" stroke-width="1"/>
<line x1="61" y1="363.15" x2="63.9" y2="363.15" stroke="#262626" stroke-width="1"/>
<line x1="61" y1="359.35" x2="63.9" y2="359.35" stroke="#262626" stroke-width="1"/>
<line x1="61" y1="355.55" x2="63.9" y2="355.55" stroke="#262626" stroke-width="1"/>
<line x1="61" y1="351.75" x2="63.9" y2="351.75" stroke="#262626" stroke-width="1"/>
<line x1="61" y1="347.95" x2="63.9" y2="347.95" stroke="#262626" stroke-width="1"/>
<line x1="61" y1="344.15" x2="63.9" y2="344.15" stroke="#262626" stroke-width="1"/>
<line x1="61" y1="340.35" x2="63.9" y2="340.35" stroke="#262626" stroke-width="1"/>
<line x1="61" y1="336.55" x2="63.9" y2="336.55" stroke="#262626" stroke-width="1"/>
<line x1="61" y1="332.75" x2="63.9" y2="332.75" stroke="#262626" stroke-width="1"/>
<line x1="61" y1="328.95" x2="63.9" y2="328.95" stroke="#262626" stroke-width="1"/>
<line x1="61" y1="325.15" x2="63.9" y2="325.15" stroke="#262626" stroke-width="1"/>
<line x1="61" y1="321.35" x2="63.9" y2="321.35" stroke="#262626" stroke-width="1"/>
<line x1="61" y1="317.55" x2="63.9" y2="317.55" stroke="#262626" stroke-width="1"/>
<line x1="61" y1="313.75" x2="63.9" y2="313.75" stroke="#262626" stroke-width="1"/>
<line x1="61" y1="309.95" x2="63.9" y2="309.95" stroke="#262626" stroke-width="1"/>
<line x1="61" y1="306.15" x2="63.9" y2="306.15" stroke="#262626" stroke-width="1"/>
<line x1="61" y1="302.35" x2="63.9" y2="302.35" stroke="#262626" stroke-width="1"/>
<line x1="61" y1="298.55" x2="63.9" y2="298.55" stroke="#262626" stroke-width="1"/>
<line x1="61" y1="294.75" x2="63.9" y2="294.75" stroke="#262626" stroke-width="1"/>
<line x1="61" y1="290.95" x2="63.9" y2="290.95" stroke="#262626" stroke-width="1"/>
<line x1="61" y1="287.15" x2="63.9" y2="287.15" stroke="#262626" stroke-width="1"/>
<line x1="61" y1="283.35" x2="63.9" y2="283.35" stroke="#262626" stroke-width="1"/>
<line x1="61" y1="279.55" x2="63.9" y2="279.55" stroke="#262626" stroke-width="1"/>
<line x1="61" y1="275.75" x2="63.9" y2="275.75" stroke="#262626" stroke-width="1"/>
<line x1="61" y1="271.95" x2="63.9" y2="271.95" stroke="#262626" stroke-width="1"/>
<line x1="61" y1="268.15" x2="63.9" y2="268.15" stroke="#262626" stroke-width="1"/>
<line x1="61" y1="264.35" x2="63.9" y2="264.35" stroke="#262626" stroke-width="1"/>
<line x1="61" y1="260.55" x2="63.9" y2="260.55" stroke="#262626" stroke-width="1"/>
<line x1="91.56" y1="412.55" x2="91.56" y2="408.75" stroke="#262626" stroke-width="1"/>
<line x1="122.11" y1="412.55" x2="122.11" y2="408.75" stroke="#262626" stroke-width="1"/>
<line x1="152.67" y1="412.55" x2="152.67" y2="408.75" stroke="#262626" stroke-width="1"/>
<line x1="183.22" y1="412.55" x2="183.22" y2="408.75" stroke="#262626" stroke-width="1"/>
<line x1="213.78" y1="412.55" x2="213.78" y2="408.75" stroke="#262626" stroke-width="1"/>
<line x1="244.33" y1="412.55" x2="244.33" y2="408.75" stroke="#262626" stroke-width="1"/>
<line x1="274.89" y1="412.55" x2="274.89" y2="408.75" stroke="#262626" stroke-width="1"/>
<line x1="305.44" y1="412.55" x2="305.44" y2="408.75" stroke="#262626" stroke-width="1"/>
<text x="56.4" y="415.8" font-size="11.3" text-anchor="end" fill="#1a1a1a">0</text>
<text x="56.4" y="400.6" font-size="11.3" text-anchor="end" fill="#1a1a1a">1400</text>
<text x="56.4" y="385.4" font-size="11.3" text-anchor="end" fill="#1a1a1a">2800</text>
<text x="56.4" y="370.2" font-size="11.3" text-anchor="end" fill="#1a1a1a">4200</text>
<text x="56.4" y="355" font-size="11.3" text-anchor="end" fill="#1a1a1a">5600</text>
<text x="56.4" y="339.8" font-size="11.3" text-anchor="end" fill="#1a1a1a">7000</text>
<text x="56.4" y="324.6" font-size="11.3" text-anchor="end" fill="#1a1a1a">8400</text>
<text x="56.4" y="309.4" font-size="11.3" text-anchor="end" fill="#1a1a1a">9800</text>
<text x="56.4" y="294.2" font-size="11.3" text-anchor="end" fill="#1a1a1a">11200</text>
<text x="56.4" y="279" font-size="11.3" text-anchor="end" fill="#1a1a1a">12600</text>
<text x="56.4" y="263.8" font-size="11.3" text-anchor="end" fill="#1a1a1a">14000</text>
<text x="91.56" y="426.15" font-size="11.3" text-anchor="middle" fill="#1a1a1a">S</text>
<text x="122.11" y="426.15" font-size="11.3" text-anchor="middle" fill="#1a1a1a">SW</text>
<text x="152.67" y="426.15" font-size="11.3" text-anchor="middle" fill="#1a1a1a">W</text>
<text x="183.22" y="426.15" font-size="11.3" text-anchor="middle" fill="#1a1a1a">NW</text>
<text x="213.78" y="426.15" font-size="11.3" text-anchor="middle" fill="#1a1a1a">N</text>
<text x="244.33" y="426.15" font-size="11.3" text-anchor="middle" fill="#1a1a1a">NE</text>
<text x="274.89" y="426.15" font-size="11.3" text-anchor="middle" fill="#1a1a1a">E</text>
<text x="305.44" y="426.15" font-size="11.3" text-anchor="middle" fill="#1a1a1a">SE</text>
<text x="198.5" y="441.95" font-size="11.2" text-anchor="middle" fill="#1a1a1a">Orientation [-]</text>
<text transform="translate(17.1,336.55) rotate(-90)" x="0" y="0" font-size="11.2" text-anchor="middle" fill="#1a1a1a">Degree hours [-]</text>
<text x="0.3" y="240.5" font-size="12.25" fill="#1a1a1a">(c) Bedroom A / Degree hours</text>
<line x1="409.65" y1="397.35" x2="683" y2="397.35" stroke="#c6c6c6" stroke-width="1" stroke-dasharray="2.2 1.52"/>
<line x1="409.65" y1="382.15" x2="683" y2="382.15" stroke="#c6c6c6" stroke-width="1" stroke-dasharray="2.2 1.52"/>
<line x1="409.65" y1="366.95" x2="683" y2="366.95" stroke="#c6c6c6" stroke-width="1" stroke-dasharray="2.2 1.52"/>
<line x1="409.65" y1="351.75" x2="683" y2="351.75" stroke="#c6c6c6" stroke-width="1" stroke-dasharray="2.2 1.52"/>
<line x1="409.65" y1="336.55" x2="683" y2="336.55" stroke="#c6c6c6" stroke-width="1" stroke-dasharray="2.2 1.52"/>
<line x1="409.65" y1="321.35" x2="683" y2="321.35" stroke="#c6c6c6" stroke-width="1" stroke-dasharray="2.2 1.52"/>
<line x1="409.65" y1="306.15" x2="683" y2="306.15" stroke="#c6c6c6" stroke-width="1" stroke-dasharray="2.2 1.52"/>
<line x1="409.65" y1="290.95" x2="683" y2="290.95" stroke="#c6c6c6" stroke-width="1" stroke-dasharray="2.2 1.52"/>
<line x1="409.65" y1="275.75" x2="683" y2="275.75" stroke="#c6c6c6" stroke-width="1" stroke-dasharray="2.2 1.52"/>
<text x="418.8" y="393.1" font-size="10.15" fill="#1a1a1a">Avg, 1<tspan font-size="7.1" dy="-4">st</tspan><tspan dy="4"> floor = 5793 (TMY); 10443 (2050)</tspan></text>
<text x="418.8" y="406.85" font-size="10.15" fill="#1a1a1a">Avg, 2<tspan font-size="7.1" dy="-4">nd</tspan><tspan dy="4"> floor = 7173 (TMY); 12158 (2050)</tspan></text>
<path d="M440.09,305.05 L470.58,291.05 M470.58,291.05 L501.07,286.25 M501.07,286.25 L531.56,306.25 M531.56,306.25 L562.04,326.65 M562.04,326.65 L592.53,306.25 M592.53,306.25 L623.02,283.95 M623.02,283.95 L653.51,287.25" fill="none" stroke="#ed7d31" stroke-width="1.15" stroke-dasharray="2.6 2.25" stroke-dashoffset="1.3"/>
<path d="M440.09,286.6 L470.58,273 M470.58,273 L501.07,268.7 M501.07,268.7 L531.56,287.1 M531.56,287.1 L562.04,305.91 M562.04,305.91 L592.53,287.2 M592.53,287.2 L623.02,267.8 M623.02,267.8 L653.51,270.6" fill="none" stroke="#ed7d31" stroke-width="1.15" stroke-dasharray="2.6 2.25" stroke-dashoffset="1.3"/>
<path d="M440.09,357.75 L470.58,345.36 M470.58,345.36 L501.07,339.45 M501.07,339.45 L531.56,352.75 M531.56,352.75 L562.04,368.25 M562.04,368.25 L592.53,352.85 M592.53,352.85 L623.02,337.95 M623.02,337.95 L653.51,343.05" fill="none" stroke="#1f3dff" stroke-width="1.15" stroke-dasharray="2.6 2.25" stroke-dashoffset="1.3"/>
<path d="M440.09,342.7 L470.58,330.44 M470.58,330.44 L501.07,325.56 M501.07,325.56 L531.56,338 M531.56,338 L562.04,352.27 M562.04,352.27 L592.53,338.3 M592.53,338.3 L623.02,324.31 M623.02,324.31 L653.51,329.14" fill="none" stroke="#1f3dff" stroke-width="1.15" stroke-dasharray="2.6 2.25" stroke-dashoffset="1.3"/>
<rect x="437.74" y="302.7" width="4.7" height="4.7" fill="#ed7d31"/>
<rect x="468.23" y="288.7" width="4.7" height="4.7" fill="#ed7d31"/>
<rect x="498.72" y="283.9" width="4.7" height="4.7" fill="#ed7d31"/>
<rect x="529.21" y="303.9" width="4.7" height="4.7" fill="#ed7d31"/>
<rect x="559.69" y="324.3" width="4.7" height="4.7" fill="#ed7d31"/>
<rect x="590.18" y="303.9" width="4.7" height="4.7" fill="#ed7d31"/>
<rect x="620.67" y="281.6" width="4.7" height="4.7" fill="#ed7d31"/>
<rect x="651.16" y="284.9" width="4.7" height="4.7" fill="#ed7d31"/>
<path d="M440.09,282.8 L443.29,288.5 L436.89,288.5 Z" fill="#ed7d31"/>
<path d="M470.58,269.2 L473.78,274.9 L467.38,274.9 Z" fill="#ed7d31"/>
<path d="M501.07,264.9 L504.27,270.6 L497.87,270.6 Z" fill="#ed7d31"/>
<path d="M531.56,283.3 L534.76,289 L528.36,289 Z" fill="#ed7d31"/>
<path d="M562.04,302.11 L565.24,307.81 L558.84,307.81 Z" fill="#ed7d31"/>
<path d="M592.53,283.4 L595.73,289.1 L589.33,289.1 Z" fill="#ed7d31"/>
<path d="M623.02,264 L626.22,269.7 L619.82,269.7 Z" fill="#ed7d31"/>
<path d="M653.51,266.8 L656.71,272.5 L650.31,272.5 Z" fill="#ed7d31"/>
<rect x="437.74" y="355.4" width="4.7" height="4.7" fill="#1f3dff"/>
<rect x="468.23" y="343.01" width="4.7" height="4.7" fill="#1f3dff"/>
<rect x="498.72" y="337.1" width="4.7" height="4.7" fill="#1f3dff"/>
<rect x="529.21" y="350.4" width="4.7" height="4.7" fill="#1f3dff"/>
<rect x="559.69" y="365.9" width="4.7" height="4.7" fill="#1f3dff"/>
<rect x="590.18" y="350.5" width="4.7" height="4.7" fill="#1f3dff"/>
<rect x="620.67" y="335.6" width="4.7" height="4.7" fill="#1f3dff"/>
<rect x="651.16" y="340.7" width="4.7" height="4.7" fill="#1f3dff"/>
<path d="M440.09,338.9 L443.29,344.6 L436.89,344.6 Z" fill="#1f3dff"/>
<path d="M470.58,326.64 L473.78,332.34 L467.38,332.34 Z" fill="#1f3dff"/>
<path d="M501.07,321.76 L504.27,327.46 L497.87,327.46 Z" fill="#1f3dff"/>
<path d="M531.56,334.2 L534.76,339.9 L528.36,339.9 Z" fill="#1f3dff"/>
<path d="M562.04,348.47 L565.24,354.17 L558.84,354.17 Z" fill="#1f3dff"/>
<path d="M592.53,334.5 L595.73,340.2 L589.33,340.2 Z" fill="#1f3dff"/>
<path d="M623.02,320.51 L626.22,326.21 L619.82,326.21 Z" fill="#1f3dff"/>
<path d="M653.51,325.34 L656.71,331.04 L650.31,331.04 Z" fill="#1f3dff"/>
<rect x="409.4" y="260.15" width="275.4" height="1" fill="#262626"/>
<rect x="683.2" y="260.15" width="1.4" height="153.25" fill="#6a6a6a"/>
<rect x="409.4" y="412.15" width="275.2" height="1.3" fill="#555"/>
<rect x="409.4" y="260.15" width="1.1" height="153.25" fill="#2a2a2a"/>
<line x1="409.6" y1="412.55" x2="412.5" y2="412.55" stroke="#262626" stroke-width="1"/>
<line x1="409.6" y1="408.75" x2="412.5" y2="408.75" stroke="#262626" stroke-width="1"/>
<line x1="409.6" y1="404.95" x2="412.5" y2="404.95" stroke="#262626" stroke-width="1"/>
<line x1="409.6" y1="401.15" x2="412.5" y2="401.15" stroke="#262626" stroke-width="1"/>
<line x1="409.6" y1="397.35" x2="412.5" y2="397.35" stroke="#262626" stroke-width="1"/>
<line x1="409.6" y1="393.55" x2="412.5" y2="393.55" stroke="#262626" stroke-width="1"/>
<line x1="409.6" y1="389.75" x2="412.5" y2="389.75" stroke="#262626" stroke-width="1"/>
<line x1="409.6" y1="385.95" x2="412.5" y2="385.95" stroke="#262626" stroke-width="1"/>
<line x1="409.6" y1="382.15" x2="412.5" y2="382.15" stroke="#262626" stroke-width="1"/>
<line x1="409.6" y1="378.35" x2="412.5" y2="378.35" stroke="#262626" stroke-width="1"/>
<line x1="409.6" y1="374.55" x2="412.5" y2="374.55" stroke="#262626" stroke-width="1"/>
<line x1="409.6" y1="370.75" x2="412.5" y2="370.75" stroke="#262626" stroke-width="1"/>
<line x1="409.6" y1="366.95" x2="412.5" y2="366.95" stroke="#262626" stroke-width="1"/>
<line x1="409.6" y1="363.15" x2="412.5" y2="363.15" stroke="#262626" stroke-width="1"/>
<line x1="409.6" y1="359.35" x2="412.5" y2="359.35" stroke="#262626" stroke-width="1"/>
<line x1="409.6" y1="355.55" x2="412.5" y2="355.55" stroke="#262626" stroke-width="1"/>
<line x1="409.6" y1="351.75" x2="412.5" y2="351.75" stroke="#262626" stroke-width="1"/>
<line x1="409.6" y1="347.95" x2="412.5" y2="347.95" stroke="#262626" stroke-width="1"/>
<line x1="409.6" y1="344.15" x2="412.5" y2="344.15" stroke="#262626" stroke-width="1"/>
<line x1="409.6" y1="340.35" x2="412.5" y2="340.35" stroke="#262626" stroke-width="1"/>
<line x1="409.6" y1="336.55" x2="412.5" y2="336.55" stroke="#262626" stroke-width="1"/>
<line x1="409.6" y1="332.75" x2="412.5" y2="332.75" stroke="#262626" stroke-width="1"/>
<line x1="409.6" y1="328.95" x2="412.5" y2="328.95" stroke="#262626" stroke-width="1"/>
<line x1="409.6" y1="325.15" x2="412.5" y2="325.15" stroke="#262626" stroke-width="1"/>
<line x1="409.6" y1="321.35" x2="412.5" y2="321.35" stroke="#262626" stroke-width="1"/>
<line x1="409.6" y1="317.55" x2="412.5" y2="317.55" stroke="#262626" stroke-width="1"/>
<line x1="409.6" y1="313.75" x2="412.5" y2="313.75" stroke="#262626" stroke-width="1"/>
<line x1="409.6" y1="309.95" x2="412.5" y2="309.95" stroke="#262626" stroke-width="1"/>
<line x1="409.6" y1="306.15" x2="412.5" y2="306.15" stroke="#262626" stroke-width="1"/>
<line x1="409.6" y1="302.35" x2="412.5" y2="302.35" stroke="#262626" stroke-width="1"/>
<line x1="409.6" y1="298.55" x2="412.5" y2="298.55" stroke="#262626" stroke-width="1"/>
<line x1="409.6" y1="294.75" x2="412.5" y2="294.75" stroke="#262626" stroke-width="1"/>
<line x1="409.6" y1="290.95" x2="412.5" y2="290.95" stroke="#262626" stroke-width="1"/>
<line x1="409.6" y1="287.15" x2="412.5" y2="287.15" stroke="#262626" stroke-width="1"/>
<line x1="409.6" y1="283.35" x2="412.5" y2="283.35" stroke="#262626" stroke-width="1"/>
<line x1="409.6" y1="279.55" x2="412.5" y2="279.55" stroke="#262626" stroke-width="1"/>
<line x1="409.6" y1="275.75" x2="412.5" y2="275.75" stroke="#262626" stroke-width="1"/>
<line x1="409.6" y1="271.95" x2="412.5" y2="271.95" stroke="#262626" stroke-width="1"/>
<line x1="409.6" y1="268.15" x2="412.5" y2="268.15" stroke="#262626" stroke-width="1"/>
<line x1="409.6" y1="264.35" x2="412.5" y2="264.35" stroke="#262626" stroke-width="1"/>
<line x1="409.6" y1="260.55" x2="412.5" y2="260.55" stroke="#262626" stroke-width="1"/>
<line x1="440.09" y1="412.55" x2="440.09" y2="408.75" stroke="#262626" stroke-width="1"/>
<line x1="470.58" y1="412.55" x2="470.58" y2="408.75" stroke="#262626" stroke-width="1"/>
<line x1="501.07" y1="412.55" x2="501.07" y2="408.75" stroke="#262626" stroke-width="1"/>
<line x1="531.56" y1="412.55" x2="531.56" y2="408.75" stroke="#262626" stroke-width="1"/>
<line x1="562.04" y1="412.55" x2="562.04" y2="408.75" stroke="#262626" stroke-width="1"/>
<line x1="592.53" y1="412.55" x2="592.53" y2="408.75" stroke="#262626" stroke-width="1"/>
<line x1="623.02" y1="412.55" x2="623.02" y2="408.75" stroke="#262626" stroke-width="1"/>
<line x1="653.51" y1="412.55" x2="653.51" y2="408.75" stroke="#262626" stroke-width="1"/>
<text x="405" y="415.8" font-size="11.3" text-anchor="end" fill="#1a1a1a">0</text>
<text x="405" y="400.6" font-size="11.3" text-anchor="end" fill="#1a1a1a">1400</text>
<text x="405" y="385.4" font-size="11.3" text-anchor="end" fill="#1a1a1a">2800</text>
<text x="405" y="370.2" font-size="11.3" text-anchor="end" fill="#1a1a1a">4200</text>
<text x="405" y="355" font-size="11.3" text-anchor="end" fill="#1a1a1a">5600</text>
<text x="405" y="339.8" font-size="11.3" text-anchor="end" fill="#1a1a1a">7000</text>
<text x="405" y="324.6" font-size="11.3" text-anchor="end" fill="#1a1a1a">8400</text>
<text x="405" y="309.4" font-size="11.3" text-anchor="end" fill="#1a1a1a">9800</text>
<text x="405" y="294.2" font-size="11.3" text-anchor="end" fill="#1a1a1a">11200</text>
<text x="405" y="279" font-size="11.3" text-anchor="end" fill="#1a1a1a">12600</text>
<text x="405" y="263.8" font-size="11.3" text-anchor="end" fill="#1a1a1a">14000</text>
<text x="440.09" y="426.15" font-size="11.3" text-anchor="middle" fill="#1a1a1a">S</text>
<text x="470.58" y="426.15" font-size="11.3" text-anchor="middle" fill="#1a1a1a">SW</text>
<text x="501.07" y="426.15" font-size="11.3" text-anchor="middle" fill="#1a1a1a">W</text>
<text x="531.56" y="426.15" font-size="11.3" text-anchor="middle" fill="#1a1a1a">NW</text>
<text x="562.04" y="426.15" font-size="11.3" text-anchor="middle" fill="#1a1a1a">N</text>
<text x="592.53" y="426.15" font-size="11.3" text-anchor="middle" fill="#1a1a1a">NE</text>
<text x="623.02" y="426.15" font-size="11.3" text-anchor="middle" fill="#1a1a1a">E</text>
<text x="653.51" y="426.15" font-size="11.3" text-anchor="middle" fill="#1a1a1a">SE</text>
<text x="546.8" y="441.95" font-size="11.2" text-anchor="middle" fill="#1a1a1a">Orientation [-]</text>
<text transform="translate(365.7,336.55) rotate(-90)" x="0" y="0" font-size="11.2" text-anchor="middle" fill="#1a1a1a">Degree hours [-]</text>
<text x="348.3" y="240.5" font-size="12.25" fill="#1a1a1a">(d) Bedroom B / Degree hours</text>
<line x1="123" y1="465.3" x2="130.6" y2="465.3" stroke="#1f3dff" stroke-width="1.2" stroke-dasharray="2.7 2.2"/>
<line x1="146.5" y1="465.3" x2="138.9" y2="465.3" stroke="#1f3dff" stroke-width="1.2" stroke-dasharray="2.7 2.2"/>
<rect x="133.45" y="462.95" width="4.9" height="4.7" fill="#1f3dff"/>
<text x="151.7" y="469" font-size="11.25" fill="#1a1a1a">1<tspan font-size="7.6" dy="-4.3">st</tspan><tspan dy="4.3"> floor (TMY)</tspan></text>
<line x1="235" y1="465.3" x2="242.6" y2="465.3" stroke="#ed7d31" stroke-width="1.2" stroke-dasharray="2.7 2.2"/>
<line x1="258.5" y1="465.3" x2="250.9" y2="465.3" stroke="#ed7d31" stroke-width="1.2" stroke-dasharray="2.7 2.2"/>
<rect x="245.45" y="462.95" width="4.9" height="4.7" fill="#ed7d31"/>
<text x="263.1" y="469" font-size="11.25" fill="#1a1a1a">1<tspan font-size="7.6" dy="-4.3">st</tspan><tspan dy="4.3"> floor (2050)</tspan></text>
<line x1="348" y1="465.3" x2="355.6" y2="465.3" stroke="#1f3dff" stroke-width="1.2" stroke-dasharray="2.7 2.2"/>
<line x1="371.8" y1="465.3" x2="364.2" y2="465.3" stroke="#1f3dff" stroke-width="1.2" stroke-dasharray="2.7 2.2"/>
<path d="M361.1,462 L364.15,467.5 L358.05,467.5 Z" fill="#1f3dff"/>
<text x="376.4" y="469" font-size="11.25" fill="#1a1a1a">2<tspan font-size="7.6" dy="-4.3">nd</tspan><tspan dy="4.3"> floor (TMY)</tspan></text>
<line x1="462.7" y1="465.3" x2="470.3" y2="465.3" stroke="#ed7d31" stroke-width="1.2" stroke-dasharray="2.7 2.2"/>
<line x1="486.5" y1="465.3" x2="478.9" y2="465.3" stroke="#ed7d31" stroke-width="1.2" stroke-dasharray="2.7 2.2"/>
<path d="M475.9,462 L478.95,467.5 L472.85,467.5 Z" fill="#ed7d31"/>
<text x="490.8" y="469" font-size="11.25" fill="#1a1a1a">2<tspan font-size="7.6" dy="-4.3">nd</tspan><tspan dy="4.3"> floor (2050)</tspan></text>
</svg>
</body></html>
